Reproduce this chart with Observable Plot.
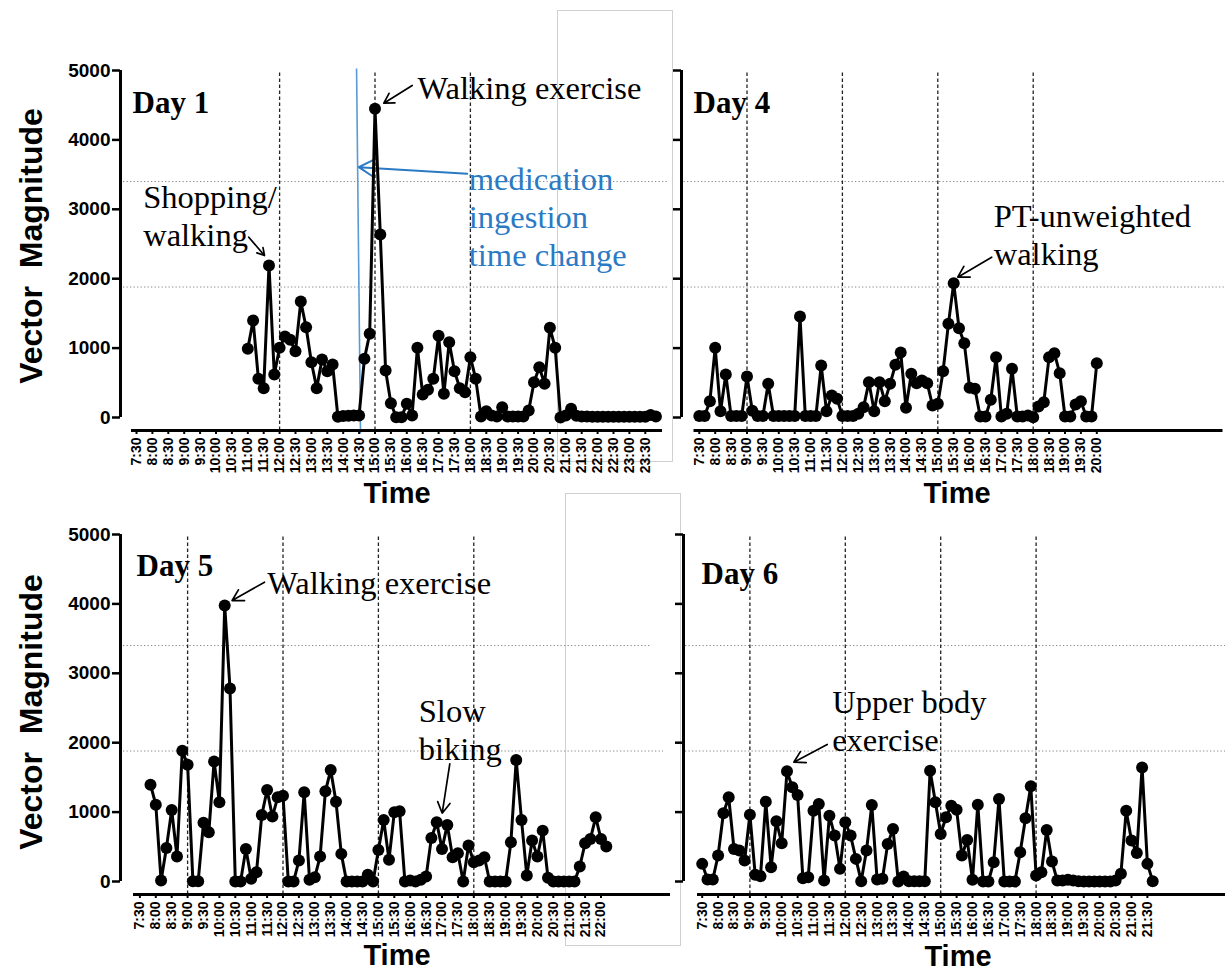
<!DOCTYPE html>
<html><head><meta charset="utf-8">
<script src="https://cdn.jsdelivr.net/npm/d3@7"></script>
<script src="https://cdn.jsdelivr.net/npm/@observablehq/plot@0.6"></script>
<style>
html,body{margin:0;padding:0;background:#fff;}
#chart{position:relative;width:1225px;height:973px;overflow:hidden;background:#fff;font-family:"Liberation Sans",Arial,sans-serif;}
.panel{position:absolute;}
.panel svg{overflow:visible;background:transparent;max-width:none;}
.ytitle{position:absolute;font-weight:bold;font-size:32px;white-space:pre;transform:translate(-50%,-50%) rotate(-90deg);color:#000;}
.xtitle{position:absolute;font-weight:bold;font-size:29px;transform:translate(-50%,-50%);color:#000;}
.box{position:absolute;border:1px solid #d0d0d0;box-sizing:border-box;}
</style></head><body><div id="chart"></div><script>
// ---------------- data ----------------
const tickLabels = ["7:30","8:00","8:30","9:00","9:30","10:00","10:30","11:00","11:30","12:00","12:30","13:00","13:30","14:00","14:30","15:00","15:30","16:00","16:30","17:00","17:30","18:00","18:30","19:00","19:30","20:00","20:30","21:00","21:30","22:00","22:30","23:00","23:30"];
const yTicks = [0,1000,2000,3000,4000,5000];
const thresholds = [3400, 1880];

// 10-minute vector magnitude samples
const day1Start = "11:00";
const day1Values = [990,1398,557,423,2190,620,1004,1167,1119,956,
  1671,1301,797,423,836,667,764,10,20,25,
  30,30,845,1206,4448,2637,677,206,5,5,
  197,29,1004,331,399,557,1177,341,1085,667,
  423,365,869,557,14,91,29,14,149,14,
  14,14,14,101,509,725,485,1292,1004,0,
  29,125,24,15,15,12,12,12,12,12,
  12,12,12,12,12,12,35,15];
const day4Start = "7:30";
const day4Values = [20,20,235,1004,91,620,20,20,20,591,
  96,20,20,485,20,20,20,20,20,1455,
  20,20,20,749,91,317,269,20,20,20,
  53,149,509,91,509,235,485,759,937,139,
  629,495,533,495,173,197,668,1350,1936,1287,
  1071,427,413,14,14,255,869,14,53,701,
  14,14,29,5,158,221,869,927,639,14,
  14,187,235,14,14,783];
const day5Start = "7:50";
const day5Values = [1395,1107,14,484,1030,360,1884,1682,5,5,
  848,709,1730,1141,3978,2780,0,0,470,38,
  134,959,1318,935,1213,1237,0,0,302,1285,
  24,62,360,1299,1606,1150,398,0,0,0,
  0,96,0,455,887,312,997,1011,0,14,
  0,24,72,628,853,470,815,350,407,0,
  518,278,302,350,0,0,0,0,566,1750,
  887,86,590,360,733,53,0,0,0,0,
  0,216,551,614,925,614,503];
const day6Start = "7:30";
const day6Values = [254,29,29,374,983,1213,470,446,302,963,
  96,77,1150,206,868,551,1587,1357,1246,48,
  62,1021,1117,14,949,662,182,853,662,326,
  5,446,1102,29,38,542,757,0,72,5,
  5,5,5,1596,1141,686,925,1093,1035,374,
  599,24,1107,0,0,278,1189,0,0,0,
  422,911,1371,86,134,743,288,14,14,24,
  14,5,0,0,0,0,0,0,14,110,
  1021,590,412,1644,254,5];

// annotations (hours, magnitude)
const day1Notes = [{label:"Walking exercise", h:16.336, v:4769},{label:"Shopping/\nwalking", h:7.71, v:2925}];
const day1Arrows = [{h1:16.17,v1:4784,h2:15.277,v2:4529},{h1:11.03,v1:2598,h2:11.525,v2:2334}];
const day1BlueNote = [{label:"medication\ningestion\ntime change", h:17.95, v:2911}];
const day1BlueArrow = [{h1:17.9,v1:3512,h2:14.49,v2:3607}];
const day1BlueLine = [{h1:14.42,v1:5029,h2:14.544,v2:-230}];
const day4Notes = [{label:"PT-unweighted\nwalking", h:16.758, v:2651}];
const day4Arrows = [{h1:16.695,v1:2310,h2:15.626,v2:2022}];
const day5Notes = [{label:"Walking exercise", h:11.503, v:4313},{label:"Slow\nbiking", h:16.27, v:2205}];
const day5Arrows = [{h1:11.418,v1:4313,h2:10.40,v2:4049},{h1:17.245,v1:1696,h2:17.006,v2:984}];
const day6Notes = [{label:"Upper body\nexercise", h:11.588, v:2334}];
const day6Arrows = [{h1:11.431,v1:1974,h2:10.38,v2:1719}];

// ---------------- helpers ----------------
const toHours = s => { const [h,m] = s.split(":").map(Number); return h + m/60; };
const series = (start, values) => values.map((v,i) => ({h: toHours(start) + i/6, v}));
const labelOf = new Map(tickLabels.map(t => [toHours(t), t]));
const PXH = 31.8;          // pixels per hour
const Y_LOW = -187.3;      // gap between 0 and the x axis line
const SERIF = "Liberation Serif, Times New Roman, serif";
const SANS = "Liberation Sans, Arial, sans-serif";
const BLUE = "#2a7ac4";
const NOTE_SIZE = 32.5;

const chart = document.getElementById("chart");

function panel(cfg) {
  const left = cfg.axisPx - 120;
  const W = cfg.right - left;
  const h0 = 7.5 - (cfg.firstTickPx - cfg.axisPx) / PXH;
  const hp = px => 7.5 + (px - cfg.firstTickPx) / PXH;
  const xTicks = tickLabels.slice(0, cfg.nTicks).map(toHours);
  const data = series(cfg.start, cfg.values);
  const marks = [
    Plot.ruleY(thresholds.map((t,i) => ({t, x1: hp(cfg.dotFrom), x2: hp(cfg.dotTo[i])})), {y: "t", x1: "x1", x2: "x2", stroke: "#8a8a8a", strokeWidth: 1, strokeDasharray: "1.3,2.2"}),
    Plot.ruleX(cfg.dashed, {y1: Y_LOW, y2: 5000, stroke: "#222", strokeWidth: 1.3, strokeDasharray: "3.5,2.5"}),
    ...(cfg.extra || []),
    Plot.line(data, {x: "h", y: "v", stroke: "#000", strokeWidth: 3, strokeLinejoin: "round"}),
    Plot.dot(data, {x: "h", y: "v", r: 6, fill: "#000", stroke: "none"}),
    Plot.ruleX([h0], {y1: 0, y2: 5000, stroke: "#000", strokeWidth: 3}),
    Plot.ruleY([Y_LOW], {x1: hp(cfg.xLineFrom), x2: hp(cfg.xLineTo), stroke: "#000", strokeWidth: 3.2}),
    Plot.axisY({ticks: yTicks, tickSize: 8, tickPadding: 2, strokeWidth: 2.5, label: null,
      tickFormat: cfg.yLabels ? (d => String(d)) : (() => ""), fontSize: 19, fontWeight: "bold", fontFamily: SANS}),
    Plot.axisX({ticks: xTicks, tickSize: 4, tickPadding: 3, strokeWidth: 2, label: null, tickRotate: -90,
      tickFormat: d => labelOf.get(d), fontSize: 14, fontWeight: "bold", fontFamily: SANS}),
    Plot.text([cfg.day], {frameAnchor: "top-left", dx: cfg.dayDx, dy: cfg.dayDy, textAnchor: "start", lineAnchor: "middle",
      fontSize: 31, fontWeight: "bold", fontFamily: SERIF, fill: "#000"}),
    Plot.text(cfg.notes, {x: "h", y: "v", text: "label", textAnchor: "start", lineAnchor: "middle", lineHeight: 1.17,
      fontSize: NOTE_SIZE, fontFamily: SERIF, fill: "#000"}),
    Plot.arrow(cfg.arrows, {x1: "h1", y1: "v1", x2: "h2", y2: "v2", stroke: "#000", strokeWidth: 1.7, headLength: 11})
  ];
  const svg = Plot.plot({
    width: W, height: 480,
    marginLeft: 120, marginRight: 0, marginTop: 70, marginBottom: 50,
    x: {domain: [h0, h0 + (W - 120) / PXH]},
    y: {domain: [Y_LOW, 5000]},
    style: {background: "transparent", overflow: "visible"},
    marks
  });
  const div = document.createElement("div");
  div.className = "panel";
  div.style.left = left + "px";
  div.style.top = cfg.top + "px";
  div.appendChild(svg);
  chart.appendChild(div);
}

// decorative light frames present in the source figure
[[557,10,116,452],[565,493,116,453]].forEach(([l,t,w,h]) => {
  const b = document.createElement("div"); b.className = "box";
  Object.assign(b.style, {left: l+"px", top: t+"px", width: w+"px", height: h+"px"});
  chart.appendChild(b);
});

panel({day: "Day 1", start: day1Start, values: day1Values, axisPx: 120, firstTickPx: 136, right: 680, top: 0,
  nTicks: 33, xLineFrom: 131, xLineTo: 662, dotFrom: 123, dotTo: [667, 667], dashed: [12,15,18], yLabels: true,
  dayDx: 12, dayDy: 33, notes: day1Notes, arrows: day1Arrows,
  extra: [
    Plot.link(day1BlueLine, {x1: "h1", y1: "v1", x2: "h2", y2: "v2", stroke: "#5b9bd5", strokeWidth: 1.6}),
    Plot.arrow(day1BlueArrow, {x1: "h1", y1: "v1", x2: "h2", y2: "v2", stroke: BLUE, strokeWidth: 2, headLength: 12}),
    Plot.text(day1BlueNote, {x: "h", y: "v", text: "label", textAnchor: "start", lineAnchor: "middle", lineHeight: 1.17,
      fontSize: NOTE_SIZE, fontFamily: SERIF, fill: BLUE})
  ]});
panel({day: "Day 4", start: day4Start, values: day4Values, axisPx: 680.5, firstTickPx: 698.3, right: 1225, top: 0,
  nTicks: 26, xLineFrom: 693, xLineTo: 1222, dotFrom: 683, dotTo: [1225, 1225], dashed: [9,12,15,18], yLabels: false,
  dayDx: 12, dayDy: 33, notes: day4Notes, arrows: day4Arrows});
panel({day: "Day 5", start: day5Start, values: day5Values, axisPx: 120, firstTickPx: 139.4, right: 680, top: 464,
  nTicks: 30, xLineFrom: 133, xLineTo: 670, dotFrom: 123, dotTo: [650, 663], dashed: [9,12,15,18], yLabels: true,
  dayDx: 16, dayDy: 32, notes: day5Notes, arrows: day5Arrows});
panel({day: "Day 6", start: day6Start, values: day6Values, axisPx: 683, firstTickPx: 701.7, right: 1225, top: 464,
  nTicks: 29, xLineFrom: 697, xLineTo: 1225, dotFrom: 685, dotTo: [1225, 1225], dashed: [9,12,15,18], yLabels: false,
  dayDx: 18, dayDy: 40, notes: day6Notes, arrows: day6Arrows});

// axis titles
[[31,246],[31,712]].forEach(([x,y]) => {
  const d = document.createElement("div"); d.className = "ytitle"; d.textContent = "Vector  Magnitude";
  d.style.left = x + "px"; d.style.top = y + "px"; chart.appendChild(d);
});
[[397,493],[957,493],[397,955],[958,956]].forEach(([x,y]) => {
  const d = document.createElement("div"); d.className = "xtitle"; d.textContent = "Time";
  d.style.left = x + "px"; d.style.top = y + "px"; chart.appendChild(d);
});
</script></body></html>
